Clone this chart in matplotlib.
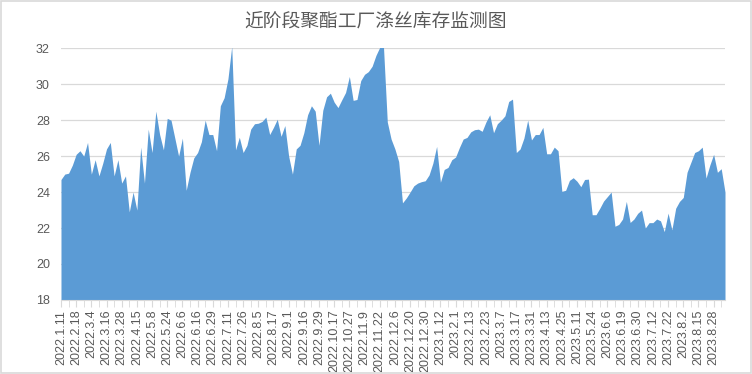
import matplotlib
matplotlib.use('Agg')
import matplotlib.pyplot as plt
import numpy as np

plt.rcParams['font.family'] = ['Liberation Sans', 'Noto Sans CJK SC']

title = '近阶段聚酯工厂涤丝库存监测图'

# labelled dates, one every 4 samples
dateLabels = ['2022.1.11', '2022.2.18', '2022.3.4', '2022.3.16', '2022.3.28', '2022.4.15',
              '2022.5.8', '2022.5.24', '2022.6.6', '2022.6.16', '2022.6.29', '2022.7.11',
              '2022.7.26', '2022.8.5', '2022.8.17', '2022.9.1', '2022.9.16', '2022.9.29',
              '2022.10.17', '2022.10.27', '2022.11.9', '2022.11.22', '2022.12.6', '2022.12.20',
              '2022.12.30', '2023.1.12', '2023.2.1', '2023.2.13', '2023.2.23', '2023.3.7',
              '2023.3.17', '2023.3.31', '2023.4.13', '2023.4.25', '2023.5.11', '2023.5.24',
              '2023.6.6', '2023.6.19', '2023.6.30', '2023.7.12', '2023.7.22', '2023.8.2',
              '2023.8.15', '2023.8.28']

# inventory (days)
stock = [
    24.7, 25.0, 25.05, 25.5, 26.1, 26.3, 26.0, 26.76, 25.0, 25.8,
    24.9, 25.6, 26.4, 26.76, 24.9, 25.8, 24.5, 24.9, 22.9, 24.0,
    23.0, 26.5, 24.5, 27.5, 26.2, 28.5, 27.2, 26.35, 28.1, 28.0,
    27.0, 26.0, 27.0, 24.1, 25.1, 25.9, 26.2, 26.8, 28.0, 27.2,
    27.2, 26.3, 28.8, 29.25, 30.3, 32.1, 26.35, 27.05, 26.2, 26.6,
    27.5, 27.8, 27.83, 27.93, 28.17, 27.2, 27.6, 28.05, 27.1, 27.7,
    26.0, 25.0, 26.4, 26.6, 27.3, 28.3, 28.8, 28.5, 26.6, 28.55,
    29.3, 29.5, 29.0, 28.7, 29.13, 29.54, 30.43, 29.1, 29.15, 30.2,
    30.55, 30.7, 31.0, 31.6, 32.05, 32.05, 27.9, 26.95, 26.4, 25.7,
    23.4, 23.67, 24.0, 24.35, 24.5, 24.58, 24.63, 24.95, 25.6, 26.54,
    24.55, 25.26, 25.37, 25.8, 25.95, 26.48, 26.95, 27.04, 27.35, 27.47,
    27.5, 27.38, 27.9, 28.3, 27.3, 27.8, 28.0, 28.24, 29.04, 29.17,
    26.2, 26.4, 27.0, 28.0, 26.9, 27.2, 27.2, 27.6, 26.13, 26.13,
    26.5, 26.3, 24.04, 24.1, 24.65, 24.8, 24.6, 24.3, 24.7, 24.72,
    22.74, 22.74, 23.1, 23.5, 23.75, 24.0, 22.1, 22.2, 22.5, 23.48,
    22.31, 22.5, 22.82, 23.0, 22.0, 22.3, 22.3, 22.5, 22.4, 21.8,
    22.83, 21.9, 23.1, 23.48, 23.7, 25.1, 25.65, 26.2, 26.3, 26.5,
    24.78, 25.5, 26.1, 25.1, 25.3, 24.0]

fig = plt.figure(figsize=(7.52, 3.74), dpi=100)
fig.patches.append(plt.Rectangle((0.0015, 0.003), 0.997, 0.994, transform=fig.transFigure,
                                 fill=False, edgecolor='#d9d9d9', linewidth=1.2))
ax = fig.add_axes([0.0811, 0.198, 0.883, 0.673])

x = np.arange(len(stock))
ax.fill_between(x, 18, stock, color='#5b9bd5', linewidth=0, zorder=2)

ax.set_xlim(0, len(stock) - 1)
ax.set_ylim(18, 32)
ax.set_yticks(range(18, 33, 2))
ax.grid(axis='y', color='#d9d9d9', linewidth=0.9, zorder=0)
ax.set_axisbelow(True)

for side in ['top', 'right', 'left']:
    ax.spines[side].set_visible(False)
ax.spines['bottom'].set_color('#d9d9d9')
ax.spines['bottom'].set_zorder(3)

labelPos = np.arange(len(dateLabels)) * 4
ax.set_xticks(labelPos)
ax.set_xticklabels(dateLabels, rotation=90, fontsize=9, color='#595959')
ax.set_xticks(np.arange(0, len(stock), 2), minor=True)
ax.tick_params(axis='x', which='both', length=5, color='#d9d9d9', direction='out', pad=2)
ax.tick_params(axis='y', length=0, labelsize=9, labelcolor='#595959', pad=8)

fig.text(0.5, 0.945, title, ha='center', va='center', fontsize=13.5, color='#595959',
         family=['Noto Sans CJK SC'], weight='light')

plt.savefig('out.png', dpi=100)
